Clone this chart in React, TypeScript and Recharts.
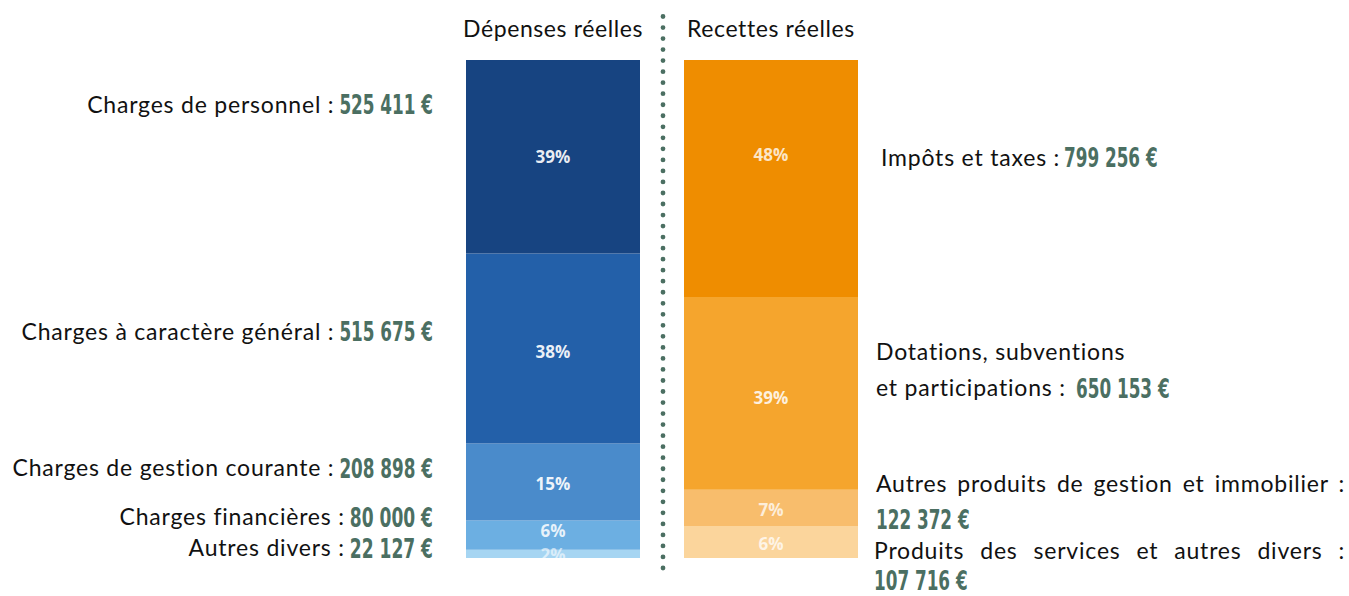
import React, { useLayoutEffect, useRef, useState } from "react";
import { Bar, BarChart, LabelList, XAxis, YAxis } from "recharts";

const categories = ["Dépenses réelles", "Recettes réelles"];

const depenseLabels = [
  "Charges de personnel :",
  "Charges à caractère général :",
  "Charges de gestion courante :",
  "Charges financières :",
  "Autres divers :",
];
const depenseValues = [525411, 515675, 208898, 80000, 22127];

const recetteLabels = [
  ["Impôts et taxes :"],
  ["Dotations, subventions", "et participations :"],
  ["Autres produits de gestion et immobilier :"],
  ["Produits des services et autres divers :"],
];
const recetteValues = [799256, 650153, 122372, 107716];

const depenseColors = ["#174481", "#2360a9", "#4a8bcb", "#6cafe2", "#a6d5f2"];
const recetteColors = ["#ef8d00", "#f5a52d", "#f8bd6c", "#fbd59c"];
const depenseTextOpacity = [0.92, 0.92, 0.92, 0.85, 0.6];
const recetteTextOpacity = [0.8, 0.85, 0.75, 0.75];

// vertical shift of the labels, from the segment middle
const depShift = [-52, -17, -14, -18, -6];
const depPctShift = [0, 3, 2, -4, 1];
const recShift = [[-21], [-41, -5], [-24, 11], [9, 38]];
const recPctShift = [-24, 4, 2, 2];

const GREEN = "#4b6f62";
const TEXT_FONT = "Lato, 'Open Sans', sans-serif";
const TEXT_SIZE = 23;
const TEXT_SPACING = 0.8;
const NUM_FONT = "'Liberation Sans Narrow', 'DejaVu Sans Condensed', 'Arial Narrow', sans-serif";

const depTotal = depenseValues.reduce((a, b) => a + b, 0);
const recTotal = recetteValues.reduce((a, b) => a + b, 0);

const data = categories.map((name, i) => {
  const row: Record<string, string | number> = { name };
  depenseValues.forEach((v, k) => (row[`d${k}`] = i === 0 ? v : 0));
  recetteValues.forEach((v, k) => (row[`r${k}`] = i === 1 ? v : 0));
  return row;
});

const fmt = (v: number) => v.toString().replace(/\B(?=(\d{3})+(?!\d))/g, " ") + " €";
const numWidth = (s: string) => s.length * 10.4;

const Amount = ({ x, y, value, anchor }: { x: number; y: number; value: number; anchor: "start" | "end" }) => {
  const s = fmt(value);
  const w = numWidth(s);
  return (
    <text
      x={anchor === "end" ? x - w : x}
      y={y}
      dy="0.36em"
      fill={GREEN}
      fontFamily={NUM_FONT}
      fontWeight="bold"
      fontSize={27}
      textLength={w}
      lengthAdjust="spacingAndGlyphs"
    >
      {s}
    </text>
  );
};

const Label = ({ x, y, anchor = "start", children }: { x: number; y: number; anchor?: "start" | "end"; children: string }) => (
  <text
    x={x}
    y={y}
    dy="0.35em"
    textAnchor={anchor}
    fill="#111"
    fontFamily={TEXT_FONT}
    fontSize={TEXT_SIZE}
    letterSpacing={TEXT_SPACING}
  >
    {children}
  </text>
);

const Justified = ({ x, y, width, text }: { x: number; y: number; width: number; text: string }) => {
  const ref = useRef<SVGTextElement>(null);
  const [ws, setWs] = useState(0);
  useLayoutEffect(() => {
    if (!ref.current) return;
    const natural = ref.current.getComputedTextLength();
    const gaps = text.split(" ").length - 1;
    setWs((width - natural) / gaps);
  }, [text, width]);
  return (
    <text
      ref={ref}
      x={x}
      y={y}
      dy="0.35em"
      fill="#111"
      fontFamily={TEXT_FONT}
      fontSize={TEXT_SIZE}
      letterSpacing={TEXT_SPACING}
      wordSpacing={ws}
    >
      {text}
    </text>
  );
};

const Pct = ({ x, y, opacity, value }: { x: number; y: number; opacity: number; value: number }) => (
  <text
    x={x}
    y={y}
    dy="0.36em"
    textAnchor="middle"
    fill="#fff"
    fillOpacity={opacity}
    fontFamily="'Open Sans', sans-serif"
    fontWeight="bold"
    fontSize={17}
  >
    {value}%
  </text>
);

const DepLabel = ({ k, p }: { k: number; p: any }) => {
  const x = Number(p.x);
  const w = Number(p.width);
  const h = Number(p.height);
  if (!(Math.abs(h) > 0.5)) return null;
  const cy = Number(p.y) + h / 2;
  const right = x - 33;
  const amount = fmt(depenseValues[k]);
  const ly = cy + depShift[k];
  return (
    <g>
      <Pct
        x={x + w / 2}
        y={cy + depPctShift[k]}
        opacity={depenseTextOpacity[k]}
        value={Math.round((depenseValues[k] / depTotal) * 100)}
      />
      <Label x={right - numWidth(amount) - 5} y={ly} anchor="end">
        {depenseLabels[k]}
      </Label>
      <Amount x={right} y={ly} value={depenseValues[k]} anchor="end" />
    </g>
  );
};

const RecLabel = ({ k, p }: { k: number; p: any }) => {
  const x = Number(p.x);
  const w = Number(p.width);
  const h = Number(p.height);
  if (!(Math.abs(h) > 0.5)) return null;
  const cy = Number(p.y) + h / 2;
  const left = x + w + 18;
  const lines = recetteLabels[k];
  const shift = recShift[k];
  const pct = (
    <Pct
      x={x + w / 2}
      y={cy + recPctShift[k]}
      opacity={recetteTextOpacity[k]}
      value={Math.round((recetteValues[k] / recTotal) * 100)}
    />
  );
  if (k === 0) {
    return (
      <g>
        {pct}
        <Label x={left + 5} y={cy + shift[0]}>
          {lines[0]}
        </Label>
        <Amount x={1064} y={cy + shift[0]} value={recetteValues[k]} anchor="start" />
      </g>
    );
  }
  if (k === 1) {
    return (
      <g>
        {pct}
        <Label x={left} y={cy + shift[0]}>
          {lines[0]}
        </Label>
        <Label x={left} y={cy + shift[1]}>
          {lines[1]}
        </Label>
        <Amount x={1076} y={cy + shift[1]} value={recetteValues[k]} anchor="start" />
      </g>
    );
  }
  const lx = left - (k === 3 ? 2 : 0);
  return (
    <g>
      {pct}
      <Justified x={lx} y={cy + shift[0]} width={1345 - lx} text={lines[0]} />
      <Amount x={lx} y={cy + shift[1]} value={recetteValues[k]} anchor="start" />
    </g>
  );
};

const App = () => {
  return (
    <div style={{ position: "relative", width: 1349, height: 596, background: "#fff" }}>
      <style>{"body{margin:0}"}</style>
      <BarChart
        width={1349}
        height={596}
        data={data}
        stackOffset="expand"
        margin={{ top: 30, right: 469, bottom: 38, left: 444 }}
      >
        <XAxis
          dataKey="name"
          orientation="top"
          axisLine={false}
          tickLine={false}
          tickSize={0}
          tickMargin={23}
          interval={0}
          tick={{ fill: "#111", fontSize: TEXT_SIZE, fontFamily: TEXT_FONT, letterSpacing: 0.6 }}
        />
        <YAxis hide domain={[0, 1]} />
        {depenseValues
          .map((_, k) => k)
          .reverse()
          .map((k) => (
            <Bar key={`d${k}`} dataKey={`d${k}`} stackId="s" fill={depenseColors[k]} barSize={174} isAnimationActive={false}>
              <LabelList content={(p: any) => <DepLabel k={k} p={p} />} />
            </Bar>
          ))}
        {recetteValues
          .map((_, k) => k)
          .reverse()
          .map((k) => (
            <Bar key={`r${k}`} dataKey={`r${k}`} stackId="s" fill={recetteColors[k]} barSize={174} isAnimationActive={false}>
              <LabelList content={(p: any) => <RecLabel k={k} p={p} />} />
            </Bar>
          ))}
      </BarChart>
      <svg width={1349} height={596} style={{ position: "absolute", left: 0, top: 0, pointerEvents: "none" }}>
        <line
          x1={663}
          x2={663}
          y1={16.5}
          y2={568}
          stroke={GREEN}
          strokeWidth={4.8}
          strokeLinecap="round"
          strokeDasharray="0 11.03"
        />
      </svg>
    </div>
  );
};

export default App;
